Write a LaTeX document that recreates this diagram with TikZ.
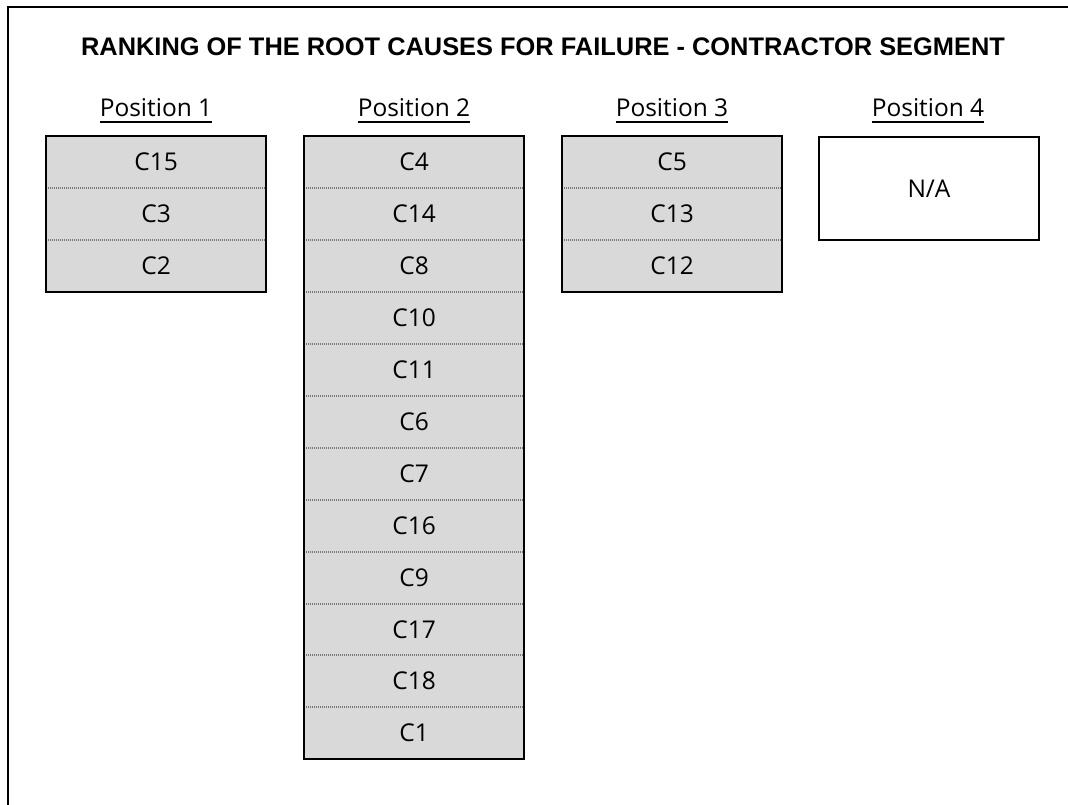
\documentclass[tikz,border=0pt]{standalone}
\usepackage{fontspec}
\setmainfont{Open Sans}
\newfontfamily\titlefont{Liberation Sans}
\definecolor{cellgray}{HTML}{D9D9D9}
\definecolor{divgray}{HTML}{777777}
\tikzset{
  cell/.style={fill=cellgray, minimum width=220pt, minimum height=51.9pt,
    inner sep=0pt, anchor=north west, font=\fontsize{24.5}{28}\selectfont},
  divider/.style={draw=divgray, line width=2pt, dash pattern=on 1.2pt off 0.8pt},
  colframe/.style={draw=black, line width=2pt},
  head/.style={inner sep=0pt, anchor=base, font=\fontsize{24.5}{28}\selectfont},
}
\begin{document}
\begin{tikzpicture}[x=1pt,y=-1pt]
\useasboundingbox (0,0) rectangle (1068,805);
% page frame (left and top edges)
\draw[line width=2pt] (8,805) -- (8,7) -- (1068,7);
% title
\node (title) at (543,47) {\titlefont\bfseries\fontsize{25.4}{30}\selectfont RANKING OF THE ROOT CAUSES FOR FAILURE - CONTRACTOR SEGMENT};
% column headings
\foreach \i/\cx in {1/156,2/414,3/672,4/928}{
  \node[head] (h\i) at (\cx,117) {Position \i};
  \draw[line width=1.6pt] ([yshift=-5pt]h\i.base west) -- ([yshift=-5pt]h\i.base east);
}
% column 1
\foreach \lab [count=\k] in {C15,C3,C2}{
  \node[cell] (a\k) at (46,136+51.9*\k-51.9) {\lab};
}
\foreach \k in {1,2}{ \draw[divider] (a\k.south west) -- (a\k.south east); }
\draw[colframe] (a1.north west) rectangle (a3.south east);
% column 2
\foreach \lab [count=\k] in {C4,C14,C8,C10,C11,C6,C7,C16,C9,C17,C18,C1}{
  \node[cell] (b\k) at (304,136+51.9*\k-51.9) {\lab};
}
\foreach \k in {1,...,11}{ \draw[divider] (b\k.south west) -- (b\k.south east); }
\draw[colframe] (b1.north west) rectangle (b12.south east);
% column 3
\foreach \lab [count=\k] in {C5,C13,C12}{
  \node[cell] (c\k) at (562,136+51.9*\k-51.9) {\lab};
}
\foreach \k in {1,2}{ \draw[divider] (c\k.south west) -- (c\k.south east); }
\draw[colframe] (c1.north west) rectangle (c3.south east);
% column 4
\node[colframe, minimum width=220pt, minimum height=103pt, inner sep=0pt,
  anchor=north west, font=\fontsize{24.5}{28}\selectfont] (d1) at (818,136) {N/A};
\end{tikzpicture}
\end{document}
